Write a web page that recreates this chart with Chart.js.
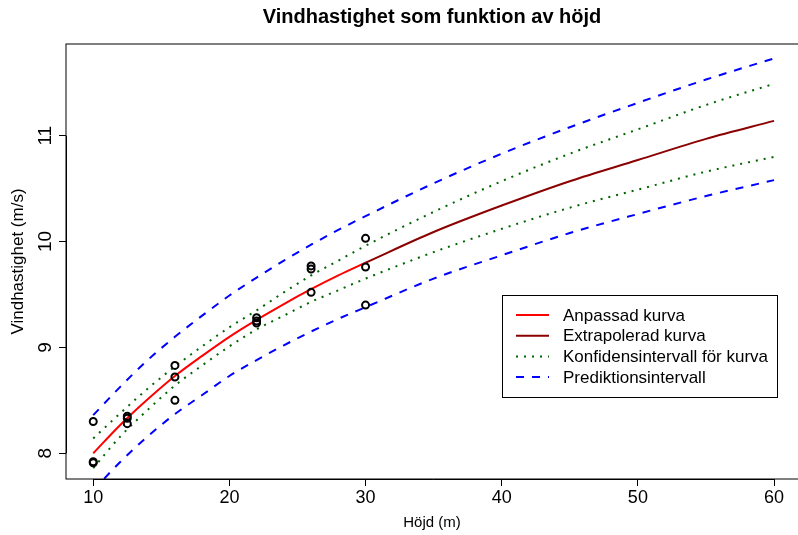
<!DOCTYPE html>
<html>
<head>
<meta charset="utf-8">
<script src="https://cdn.jsdelivr.net/npm/chart.js@4/dist/chart.umd.min.js"></script>
<style>
  html, body { margin: 0; padding: 0; background: #fff; }
</style>
</head>
<body>
<canvas id="chart" width="798" height="535"></canvas>
<script>
// Observations (height in m, wind speed in m/s)
const obsHeight = [10, 10, 10, 12.5, 12.5, 12.5, 16, 16, 16, 22, 22, 22, 26, 26, 26, 30, 30, 30];
const obsSpeed = [8.30, 7.92, 7.91, 8.35, 8.33, 8.28, 8.83, 8.72, 8.50, 9.28, 9.25, 9.23, 9.77, 9.74, 9.52, 10.03, 9.76, 9.40];

// Fitted curve (inside data) and extrapolated part
const fitHeight = [10, 12, 14, 16, 18, 20, 22, 24, 26, 28, 30];
const fitSpeed = [8.00, 8.27, 8.51, 8.73, 8.92, 9.10, 9.26, 9.41, 9.55, 9.68, 9.80];
const extHeight = [30, 35, 40, 45, 50, 55, 60];
const extSpeed = [9.80, 10.09, 10.34, 10.57, 10.77, 10.97, 11.14];

// Confidence + prediction bands
const bandHeight = [10, 12, 14, 16, 18, 20, 22, 24, 26, 28, 30, 35, 40, 45, 50, 55, 60];
const confUpper = [8.14, 8.38, 8.61, 8.82, 9.01, 9.19, 9.35, 9.52, 9.68, 9.82, 9.96, 10.28, 10.57, 10.83, 11.06, 11.29, 11.49];
const confLower = [7.86, 8.16, 8.41, 8.64, 8.83, 9.01, 9.17, 9.30, 9.43, 9.54, 9.65, 9.90, 10.12, 10.32, 10.49, 10.66, 10.80];
const predUpper = [8.36, 8.63, 8.88, 9.10, 9.30, 9.49, 9.66, 9.82, 9.97, 10.11, 10.24, 10.55, 10.83, 11.08, 11.31, 11.53, 11.73];
const predLower = [7.65, 7.92, 8.16, 8.37, 8.55, 8.73, 8.88, 9.02, 9.15, 9.27, 9.38, 9.65, 9.87, 10.08, 10.26, 10.43, 10.58];

const xTicks = [10, 20, 30, 40, 50, 60];
const yTicks = [8, 9, 10, 11];
const legendLabels = ["Anpassad kurva", "Extrapolerad kurva", "Konfidensintervall för kurva", "Prediktionsintervall"];

const FONT = "'Liberation Sans', Arial, Helvetica, sans-serif";
Chart.defaults.font.family = FONT;
Chart.defaults.color = "#000";

const pts = (xs, ys) => xs.map((x, i) => ({ x, y: ys[i] }));

const lineDs = (label, xs, ys, color, dash) => ({
  label,
  data: pts(xs, ys),
  showLine: true,
  borderColor: color,
  borderWidth: 2,
  borderDash: dash,
  pointRadius: 0,
  pointHoverRadius: 0,
  cubicInterpolationMode: "monotone",
  fill: false,
});

// legend entries -> dataset index
const legendMap = [1, 2, 3, 5];

// y tick labels (rotated like R), box, axis lines, legend
const extras = {
  id: "extras",
  afterDraw(chart) {
    const { ctx, chartArea: a, scales: { x, y } } = chart;
    ctx.save();

    // plot box (runs off the right edge)
    ctx.strokeStyle = "#000";
    ctx.lineWidth = 1;
    ctx.strokeRect(a.left, a.top, a.right - a.left + 10, a.bottom - a.top);
    ctx.beginPath();
    ctx.moveTo(a.left + 0.5, y.getPixelForValue(yTicks[0]));
    ctx.lineTo(a.left + 0.5, y.getPixelForValue(yTicks[yTicks.length - 1]));
    ctx.moveTo(x.getPixelForValue(xTicks[0]), a.bottom + 0.5);
    ctx.lineTo(x.getPixelForValue(xTicks[xTicks.length - 1]), a.bottom + 0.5);
    ctx.stroke();

    // rotated y tick labels
    ctx.fillStyle = "#000";
    ctx.font = "19px " + FONT;
    ctx.textAlign = "center";
    ctx.textBaseline = "middle";
    yTicks.forEach((v) => {
      ctx.save();
      ctx.translate(46, y.getPixelForValue(v));
      ctx.rotate(-Math.PI / 2);
      ctx.fillText(String(v), 0, 0);
      ctx.restore();
    });

    // legend
    const L = 502, T = 295, W = 275, H = 102;
    ctx.fillStyle = "#fff";
    ctx.fillRect(L, T, W, H);
    ctx.strokeStyle = "#000";
    ctx.strokeRect(L + 0.5, T + 0.5, W, H);
    ctx.font = "17px " + FONT;
    ctx.textAlign = "left";
    legendLabels.forEach((txt, i) => {
      const ds = chart.data.datasets[legendMap[i]];
      const yy = 315 + i * 20.7;
      ctx.beginPath();
      ctx.strokeStyle = ds.borderColor;
      ctx.lineWidth = 2;
      ctx.setLineDash(ds.borderDash || []);
      ctx.moveTo(516, yy);
      ctx.lineTo(549, yy);
      ctx.stroke();
      ctx.setLineDash([]);
      ctx.fillStyle = "#000";
      ctx.fillText(txt, 563, yy + 1);
    });
    ctx.restore();
  },
};

new Chart(document.getElementById("chart"), {
  type: "scatter",
  data: {
    datasets: [
      {
        label: "Observationer",
        data: pts(obsHeight, obsSpeed),
        pointStyle: "circle",
        pointRadius: 3.5,
        pointHoverRadius: 3.5,
        borderWidth: 2,
        borderColor: "#000",
        backgroundColor: "rgba(0,0,0,0)",
      },
      lineDs("Anpassad kurva", fitHeight, fitSpeed, "#FF0000", []),
      lineDs("Extrapolerad kurva", extHeight, extSpeed, "#8B0000", []),
      lineDs("Konfidensintervall övre", bandHeight, confUpper, "#006400", [2, 6]),
      lineDs("Konfidensintervall undre", bandHeight, confLower, "#006400", [2, 6]),
      lineDs("Prediktionsintervall övre", bandHeight, predUpper, "#0000FF", [8, 8]),
      lineDs("Prediktionsintervall undre", bandHeight, predLower, "#0000FF", [8, 8]),
    ],
  },
  options: {
    responsive: false,
    animation: false,
    events: [],
    layout: { padding: 0, autoPadding: false },
    plugins: {
      legend: { display: false },
      tooltip: { enabled: false },
      title: {
        display: true,
        text: "Vindhastighet som funktion av höjd",
        fullSize: false,
        color: "#000",
        font: { size: 20, weight: "bold" },
        padding: { top: 5, bottom: 15 },
      },
    },
    scales: {
      x: {
        type: "linear",
        min: 8,
        max: 61.76,
        afterBuildTicks: (s) => { s.ticks = xTicks.map((v) => ({ value: v })); },
        afterFit: (s) => { s.height = 56; },
        border: { display: false },
        grid: { drawOnChartArea: false, drawTicks: true, tickLength: 7, color: "#000" },
        ticks: { font: { size: 18 }, color: "#000", padding: 1, maxRotation: 0 },
        title: { display: true, text: "Höjd (m)", font: { size: 15 }, color: "#000", padding: { top: 0, bottom: 3 } },
      },
      y: {
        type: "linear",
        min: 7.757,
        max: 11.866,
        afterBuildTicks: (s) => { s.ticks = yTicks.map((v) => ({ value: v })); },
        afterFit: (s) => { s.width = 66; },
        border: { display: false },
        grid: { drawOnChartArea: false, drawTicks: true, tickLength: 7, color: "#000" },
        ticks: { display: false },
        title: { display: true, text: "Vindhastighet (m/s)", font: { size: 17 }, color: "#000", padding: { top: 8, bottom: 0 } },
      },
    },
  },
  plugins: [extras],
});
</script>
</body>
</html>
